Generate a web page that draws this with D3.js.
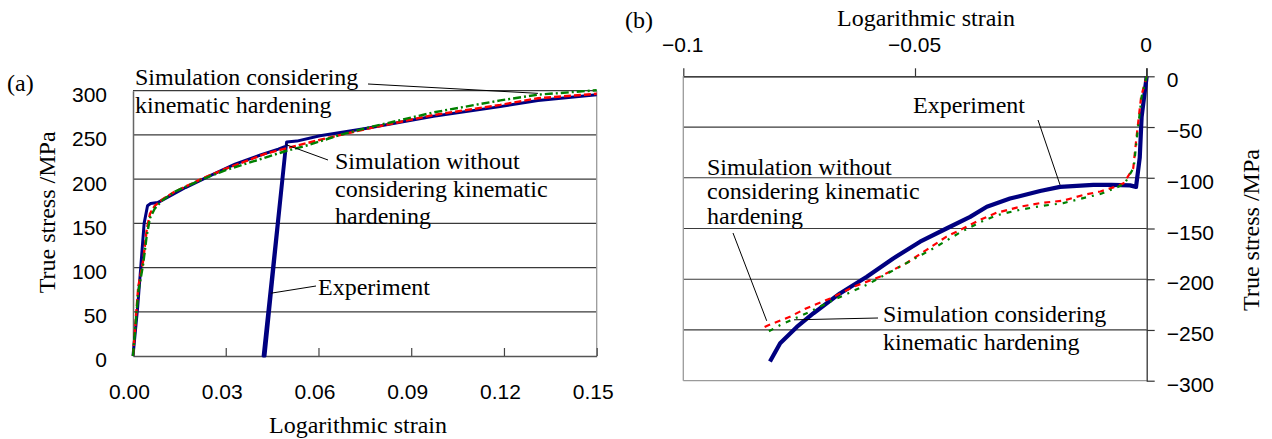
<!DOCTYPE html>
<html>
<head>
<meta charset="utf-8">
<script src="https://cdn.jsdelivr.net/npm/d3@7"></script>
<style>
  html, body { margin: 0; padding: 0; background: #fff; }
  svg { display: block; }
  .serif { font-family: "Liberation Serif", "Times New Roman", serif; font-size: 24px; fill: #000; }
  .num { font-family: "Liberation Sans", Arial, sans-serif; font-size: 21px; fill: #000; }
</style>
</head>
<body>
<svg id="chart" width="1272" height="439"></svg>
<script>
// ---------- Panel (a): tensile loading, unloading and reloading ----------
const aStrainTicks = [0, 0.03, 0.06, 0.09, 0.12, 0.15];
const aStressTicks = [0, 50, 100, 150, 200, 250, 300];

// Experiment: [logarithmic strain, true stress MPa]
const aExperiment = [
  [0, 0], [0.0015, 55], [0.0025, 100], [0.0036, 150], [0.0047, 170], [0.0057, 172.5],
  [0.008, 173.5], [0.012, 181], [0.017, 190.5], [0.025, 204], [0.033, 217], [0.041, 227],
  [0.047, 234], [0.0493, 237],
  [0.0421, 0], [0.0427, 0],
  [0.0497, 242], [0.053, 243], [0.0605, 249], [0.0757, 257.5], [0.0972, 271],
  [0.1188, 282], [0.131, 289], [0.15, 295.5]
];
// Simulation without kinematic hardening
const aWithoutKH = [
  [0, 0], [0.0017, 78], [0.0033, 108], [0.0044, 142], [0.0055, 161], [0.0071, 170],
  [0.0095, 177], [0.0136, 186], [0.0233, 202], [0.0298, 211.5], [0.0427, 228.5],
  [0.0514, 236.5], [0.06, 244], [0.0757, 257], [0.0972, 272.5], [0.1188, 284],
  [0.131, 291.5], [0.15, 296.5]
];
// Simulation considering kinematic hardening
const aWithKH = [
  [0, 0], [0.0017, 72], [0.0033, 104], [0.0044, 135], [0.0055, 156], [0.0071, 167],
  [0.0095, 176], [0.0136, 186], [0.0233, 201], [0.0298, 210], [0.0438, 225.5],
  [0.0492, 231.5], [0.0567, 238.5], [0.067, 250], [0.0757, 258], [0.0972, 275.5],
  [0.1188, 289], [0.131, 295.5], [0.15, 300.5]
];

// ---------- Panel (b): compression after prestrain ----------
const bStrainTicks = [-0.1, -0.05, 0];
const bStressTicks = [0, -50, -100, -150, -200, -250, -300];

const bExperiment = [
  [0, 0], [-0.0011, -40], [-0.0015, -80], [-0.0023, -109], [-0.0036, -107.5],
  [-0.0076, -107], [-0.0115, -107], [-0.0187, -109], [-0.023, -113], [-0.0295, -120.5],
  [-0.0345, -128.5], [-0.0381, -138.5], [-0.0432, -150], [-0.0489, -163],
  [-0.0547, -179.5], [-0.0604, -197.5], [-0.0662, -214], [-0.0719, -233.5],
  [-0.0755, -247], [-0.0791, -263], [-0.0813, -281]
];
const bWithoutKH = [
  [0, 0], [-0.0012, -20], [-0.0022, -60], [-0.0029, -90.5], [-0.005, -105.5],
  [-0.0072, -109.5], [-0.01, -113.5], [-0.0137, -117], [-0.018, -122.5], [-0.023, -125],
  [-0.0273, -128.5], [-0.0324, -134.5], [-0.036, -141.5], [-0.0403, -151.5],
  [-0.0432, -158], [-0.0475, -171], [-0.0518, -184], [-0.0576, -197.5], [-0.0633, -207.5],
  [-0.0683, -219], [-0.0734, -228.5], [-0.077, -237], [-0.082, -246], [-0.0831, -248.5]
];
const bWithKH = [
  [0, 0], [-0.0011, -20], [-0.0021, -60], [-0.0028, -90], [-0.0048, -106],
  [-0.0072, -111], [-0.01, -116], [-0.0137, -120], [-0.018, -125], [-0.023, -128],
  [-0.0273, -131.5], [-0.0324, -137], [-0.036, -144], [-0.0403, -154],
  [-0.046, -169.5], [-0.0532, -187.5], [-0.0604, -205.5], [-0.0676, -220.5],
  [-0.0734, -233.5], [-0.079, -245], [-0.082, -252.5]
];

const COLORS = { exp: "#000080", without: "#ff0000", withKH: "#008000" };

const svg = d3.select("#chart");

function leader(g, x1, y1, x2, y2) {
  g.append("line").attr("x1", x1).attr("y1", y1).attr("x2", x2).attr("y2", y2)
    .attr("stroke", "#000").attr("stroke-width", 1);
}
function label(g, x, ys, lines) {
  lines.forEach((t, i) => g.append("text").attr("class", "serif").attr("x", x).attr("y", ys[i]).text(t));
}
function plain(sel) {
  sel.attr("font-family", null).attr("font-size", null);
  return sel;
}

// ---------------- Panel (a) ----------------
const xa = d3.scaleLinear().domain([0, 0.15]).range([133, 596.7]);
const ya = d3.scaleLinear().domain([0, 300]).range([356, 90.7]);
const ga = svg.append("g");

// horizontal grid lines
ga.append("g").selectAll("line").data(aStressTicks.filter(d => d > 0)).join("line")
  .attr("x1", xa(0)).attr("x2", xa(0.15))
  .attr("y1", d => ya(d)).attr("y2", d => ya(d))
  .attr("stroke", "#3a3a3a").attr("stroke-width", 1.2);
// right border
ga.append("line").attr("x1", xa(0.15)).attr("x2", xa(0.15))
  .attr("y1", ya(300)).attr("y2", ya(0)).attr("stroke", "#9a9a9a").attr("stroke-width", 1.3);

// axes
const axA_x = d3.axisBottom(xa).tickValues(aStrainTicks).tickSizeInner(-8).tickSizeOuter(0)
  .tickFormat(d3.format(".2f"));
const gx = plain(ga.append("g").attr("transform", `translate(0,${ya(0)})`).call(axA_x));
gx.select(".domain").attr("stroke", "#555").attr("stroke-width", 1.5);
gx.selectAll(".tick line").attr("stroke", "#444").attr("stroke-width", 1.2);
gx.selectAll(".tick text").attr("class", "num").attr("y", 0).attr("dy", 0)
  .attr("transform", "translate(-4,43)");

const axA_y = d3.axisLeft(ya).tickValues(aStressTicks).tickSize(0).tickPadding(26)
  .tickFormat(d3.format("d"));
const gy = plain(ga.append("g").attr("transform", `translate(${xa(0)},0)`).call(axA_y));
gy.select(".domain").attr("stroke", "#666").attr("stroke-width", 1.5);
gy.selectAll(".tick text").attr("class", "num").attr("dy", "0.52em");

const lineA = d3.line().x(d => xa(d[0])).y(d => ya(d[1]));
ga.append("path").datum(aExperiment).attr("d", lineA).attr("fill", "none")
  .attr("stroke", COLORS.exp).attr("stroke-width", 3).attr("stroke-linejoin", "round");
ga.append("path").datum(aWithoutKH).attr("d", lineA).attr("fill", "none")
  .attr("stroke", COLORS.without).attr("stroke-width", 2.4).attr("stroke-dasharray", "7,3");
ga.append("path").datum(aWithKH).attr("d", lineA).attr("fill", "none")
  .attr("stroke", COLORS.withKH).attr("stroke-width", 2.4).attr("stroke-dasharray", "8,3,2,3");

// titles
ga.append("text").attr("class", "serif").attr("x", 7).attr("y", 91).text("(a)");
ga.append("text").attr("class", "serif").attr("text-anchor", "middle")
  .attr("transform", `translate(55,${(ya(0) + ya(300)) / 2 - 11}) rotate(-90)`)
  .text("True stress /MPa");
ga.append("text").attr("class", "serif").attr("text-anchor", "middle")
  .attr("x", 358).attr("y", 433).text("Logarithmic strain");

// annotations
label(ga, 135, [85, 113], ["Simulation considering", "kinematic hardening"]);
leader(ga, 368, 84, xa(0.131), ya(297));
label(ga, 335, [169, 196.5, 224], ["Simulation without", "considering kinematic", "hardening"]);
leader(ga, 328, 160, xa(0.0495), ya(239));
label(ga, 318, [295], ["Experiment"]);
leader(ga, 316, 286, xa(0.0446), ya(71));

// ---------------- Panel (b) ----------------
const xb = d3.scaleLinear().domain([-0.1, 0]).range([683.3, 1146.7]);
const yb = d3.scaleLinear().domain([-300, 0]).range([380.7, 76.3]);
const gb = svg.append("g");

gb.append("g").selectAll("line").data(bStressTicks.filter(d => d < 0 && d > -300)).join("line")
  .attr("x1", xb(-0.1)).attr("x2", xb(0))
  .attr("y1", d => yb(d)).attr("y2", d => yb(d))
  .attr("stroke", "#3a3a3a").attr("stroke-width", 1.2);
// left and bottom border
gb.append("line").attr("x1", xb(-0.1)).attr("x2", xb(-0.1)).attr("y1", yb(0)).attr("y2", yb(-300))
  .attr("stroke", "#9a9a9a").attr("stroke-width", 1.3);
gb.append("line").attr("x1", xb(-0.1)).attr("x2", xb(0)).attr("y1", yb(-300)).attr("y2", yb(-300))
  .attr("stroke", "#9a9a9a").attr("stroke-width", 1.3);

const axB_x = d3.axisTop(xb).tickValues(bStrainTicks).tickSizeInner(8).tickSizeOuter(0)
  .tickPadding(16).tickFormat(d3.format(""));
const gbx = plain(gb.append("g").attr("transform", `translate(0,${yb(0)})`).call(axB_x));
gbx.select(".domain").attr("stroke", "#000").attr("stroke-width", 1.3);
gbx.selectAll(".tick line").attr("stroke", "#333").attr("stroke-width", 1.2);
gbx.selectAll(".tick text").attr("class", "num").attr("dy", 0).attr("transform", "translate(-1,0)");

const axB_y = d3.axisRight(yb).tickValues(bStressTicks).tickSizeInner(8).tickSizeOuter(0)
  .tickPadding(12).tickFormat(d3.format(""));
const gby = plain(gb.append("g").attr("transform", `translate(${xb(0)},0)`).call(axB_y));
gby.select(".domain").attr("stroke", "#333").attr("stroke-width", 1.3);
gby.selectAll(".tick line").attr("stroke", "#333").attr("stroke-width", 1.2);
gby.selectAll(".tick text").attr("class", "num").attr("dy", "0.5em");
// right axis continues up to the top tick row
gb.append("line").attr("x1", xb(0)).attr("x2", xb(0)).attr("y1", yb(0) - 8).attr("y2", yb(0))
  .attr("stroke", "#333").attr("stroke-width", 1.3);

const lineB = d3.line().x(d => xb(d[0])).y(d => yb(d[1]));
gb.append("path").datum(bExperiment).attr("d", lineB).attr("fill", "none")
  .attr("stroke", COLORS.exp).attr("stroke-width", 4.2).attr("stroke-linejoin", "round");
gb.append("path").datum(bWithoutKH).attr("d", lineB).attr("fill", "none")
  .attr("stroke", COLORS.without).attr("stroke-width", 2.2).attr("stroke-dasharray", "6,5");
gb.append("path").datum(bWithKH).attr("d", lineB).attr("fill", "none")
  .attr("stroke", COLORS.withKH).attr("stroke-width", 2.2).attr("stroke-dasharray", "5,6,2,6");

gb.append("text").attr("class", "serif").attr("x", 625).attr("y", 28).text("(b)");
gb.append("text").attr("class", "serif").attr("text-anchor", "middle")
  .attr("x", 926).attr("y", 26).text("Logarithmic strain");
gb.append("text").attr("class", "serif").attr("text-anchor", "middle")
  .attr("transform", `translate(1259,230) rotate(-90)`).text("True stress /MPa");

label(gb, 913, [113], ["Experiment"]);
leader(gb, 1038, 120, xb(-0.0187), yb(-107));
label(gb, 707, [175, 199, 224], ["Simulation without", "considering kinematic", "hardening"]);
leader(gb, 733, 233, xb(-0.082), yb(-241));
label(gb, 883, [322, 350], ["Simulation considering", "kinematic hardening"]);
leader(gb, 878, 318, xb(-0.0761), yb(-240));
</script>
</body>
</html>
